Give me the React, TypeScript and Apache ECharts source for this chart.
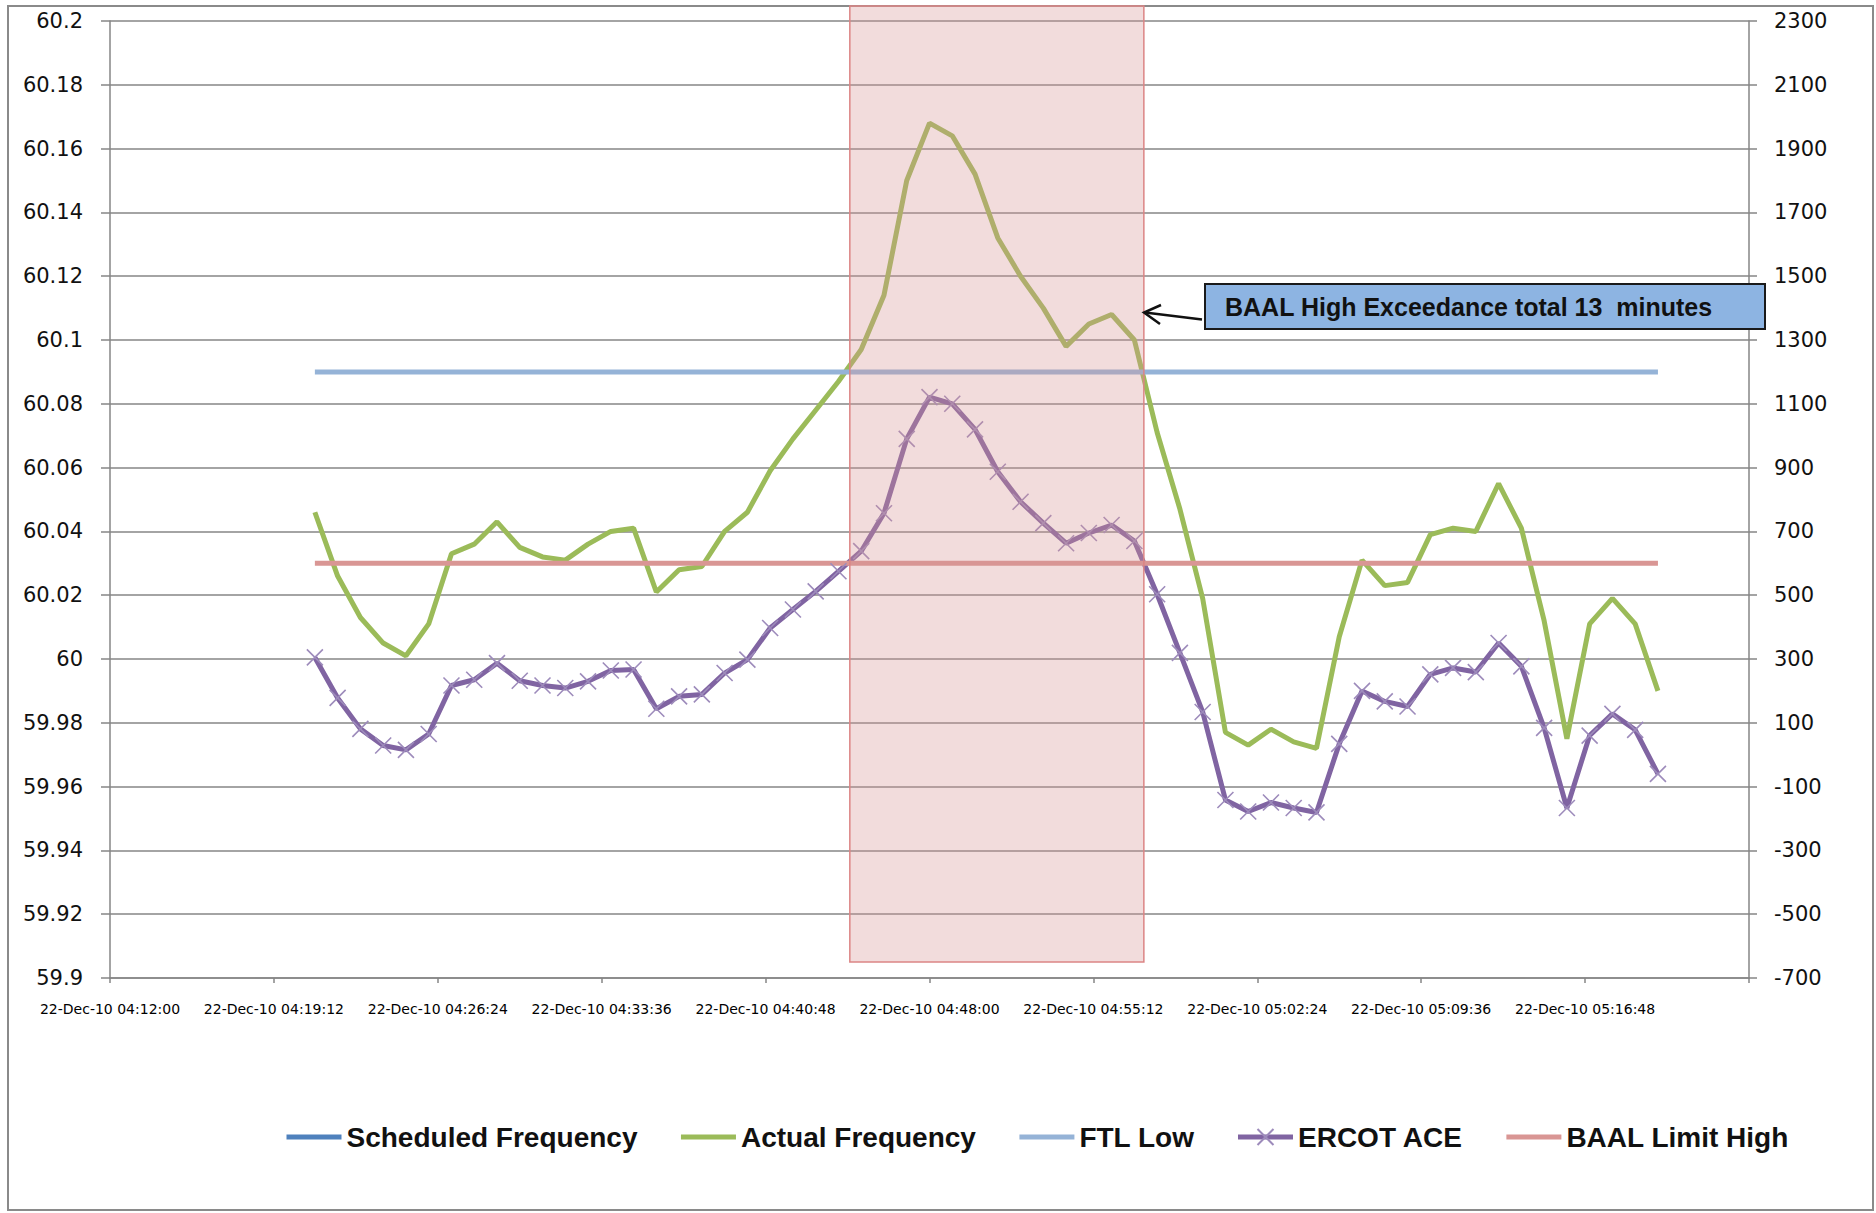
import React, { useEffect, useRef } from "react";
import * as echarts from "echarts";

// ---- Data ----
const times = [
  "04:21", "04:22", "04:23", "04:24", "04:25", "04:26", "04:27", "04:28", "04:29", "04:30",
  "04:31", "04:32", "04:33", "04:34", "04:35", "04:36", "04:37", "04:38", "04:39", "04:40",
  "04:41", "04:42", "04:43", "04:44", "04:45", "04:46", "04:47", "04:48", "04:49", "04:50",
  "04:51", "04:52", "04:53", "04:54", "04:55", "04:56", "04:57", "04:58", "04:59", "05:00",
  "05:01", "05:02", "05:03", "05:04", "05:05", "05:06", "05:07", "05:08", "05:09", "05:10",
  "05:11", "05:12", "05:13", "05:14", "05:15", "05:16", "05:17", "05:18", "05:19", "05:20",
];

const actualFrequency = [
  60.046, 60.026, 60.013, 60.005, 60.001, 60.011, 60.033, 60.036, 60.043, 60.035,
  60.032, 60.031, 60.036, 60.040, 60.041, 60.021, 60.028, 60.029, 60.040, 60.046,
  60.059, 60.069, 60.078, 60.087, 60.097, 60.114, 60.150, 60.168, 60.164, 60.152,
  60.132, 60.120, 60.110, 60.098, 60.105, 60.108, 60.100, 60.071, 60.047, 60.019,
  59.977, 59.973, 59.978, 59.974, 59.972, 60.007, 60.031, 60.023, 60.024, 60.039,
  60.041, 60.040, 60.055, 60.041, 60.012, 59.975, 60.011, 60.019, 60.011, 59.990,
];

const ercotAce = [
  305, 178, 81, 29, 15, 65, 217, 235, 287, 232,
  217, 209, 230, 264, 267, 144, 183, 189, 256, 298,
  397, 455, 512, 575, 638, 757, 990, 1121, 1100, 1020,
  887, 793, 726, 663, 695, 720, 670, 503, 319, 134,
  -142, -178, -150, -167, -181, 34, 200, 167, 151, 252,
  272, 259, 350, 277, 84, -167, 60, 128, 78, -60,
];

const scheduledFrequency: number[] = [];
const FTL_LOW = 60.09;
const BAAL_LIMIT_HIGH = 60.03;

const seriesNames = [
  "Scheduled Frequency",
  "Actual Frequency",
  "FTL Low",
  "ERCOT ACE",
  "BAAL Limit High",
];

const xAxisStart = "04:12:00";
const xAxisEnd = "05:24:00";
const xTickStepSeconds = 432; // 7.2 minutes
const datePrefix = "22-Dec-10";
const shadedWindow = ["04:44:30", "04:57:25"];
const annotationText = "BAAL High Exceedance total 13  minutes";

// ---- helpers ----
const toSec = (t: string) => {
  const p = t.split(":").map(Number);
  return p[0] * 3600 + p[1] * 60 + (p[2] || 0);
};
const pad = (n: number) => (n < 10 ? "0" + n : "" + n);
const fmtTime = (v: number) => {
  const s = Math.round(v);
  return `${pad(Math.floor(s / 3600))}:${pad(Math.floor((s % 3600) / 60))}:${pad(s % 60)}`;
};

const COLORS = {
  scheduled: "#4F81BD",
  actual: "#9BBB59",
  ftl: "#95B3D7",
  ace: "#8064A2",
  baal: "#D99694",
  grid: "#868686",
};

export default function App() {
  const ref = useRef<HTMLDivElement>(null);

  useEffect(() => {
    if (!ref.current) return;
    const chart = echarts.init(ref.current, undefined, { renderer: "svg" });
    const xMin = toSec(xAxisStart);
    const xMax = toSec(xAxisEnd);
    const axisLineStyle = { color: COLORS.grid, width: 1.5 };

    const option: any = {
      animation: false,
      backgroundColor: "#ffffff",
      textStyle: { fontFamily: "DejaVu Sans" },
      grid: { left: 110, right: 127, top: 21, bottom: 235, containLabel: false },
      xAxis: {
        type: "value",
        min: xMin,
        max: xMax,
        interval: xTickStepSeconds,
        axisLine: { show: true, onZero: false, lineStyle: axisLineStyle },
        axisTick: { show: true, length: 5, lineStyle: axisLineStyle },
        splitLine: { show: false },
        axisLabel: {
          margin: 24,
          fontSize: 14,
          color: "#000",
          fontFamily: "DejaVu Sans",
          formatter: (v: number) => (Math.round(v) >= xMax ? "" : `${datePrefix} ${fmtTime(v)}`),
        },
      },
      yAxis: [
        {
          type: "value",
          position: "left",
          min: 59.9,
          max: 60.2,
          interval: 0.02,
          axisLine: { show: true, lineStyle: axisLineStyle },
          axisTick: { show: true, length: 9, lineStyle: axisLineStyle },
          splitLine: { show: true, lineStyle: { color: COLORS.grid, width: 1.5 } },
          axisLabel: {
            margin: 27,
            fontSize: 21,
            color: "#111",
            fontFamily: "DejaVu Sans",
            formatter: (v: number) => String(parseFloat(v.toFixed(2))),
          },
        },
        {
          type: "value",
          position: "right",
          min: -700,
          max: 2300,
          interval: 200,
          axisLine: { show: true, lineStyle: axisLineStyle },
          axisTick: { show: true, length: 8, lineStyle: axisLineStyle },
          splitLine: { show: false },
          axisLabel: {
            margin: 25,
            fontSize: 21,
            color: "#111",
            fontFamily: "DejaVu Sans",
            formatter: (v: number) => String(Math.round(v)),
          },
        },
      ],
      legend: {
        left: 279,
        top: 1116,
        itemWidth: 55,
        itemHeight: 20,
        itemGap: 41,
        lineStyle: { width: 5 },
        textStyle: {
          fontFamily: "Liberation Sans",
          fontWeight: "bold",
          fontSize: 28,
          color: "#111",
          lineHeight: 32,
        },
        data: seriesNames.map((n) =>
          n === "ERCOT ACE" ? { name: n } : { name: n, itemStyle: { opacity: 0 } }
        ),
      },
      series: [
        {
          name: seriesNames[0],
          type: "line",
          yAxisIndex: 0,
          symbol: "none",
          color: COLORS.scheduled,
          lineStyle: { color: COLORS.scheduled, width: 5 },
          data: scheduledFrequency.map((v, i) => [toSec(times[i]), v]),
        },
        {
          name: seriesNames[1],
          type: "line",
          yAxisIndex: 0,
          symbol: "none",
          color: COLORS.actual,
          lineStyle: { color: COLORS.actual, width: 5 },
          data: actualFrequency.map((v, i) => [toSec(times[i]), v]),
        },
        {
          name: seriesNames[2],
          type: "line",
          yAxisIndex: 0,
          symbol: "none",
          color: COLORS.ftl,
          lineStyle: { color: COLORS.ftl, width: 5 },
          data: times.map((t) => [toSec(t), FTL_LOW]),
        },
        {
          name: seriesNames[3],
          type: "line",
          yAxisIndex: 1,
          symbol: "path://M0,0L10,10M10,0L0,10",
          symbolSize: 16,
          showSymbol: true,
          showAllSymbol: true,
          color: COLORS.ace,
          itemStyle: { color: COLORS.ace, borderColor: "#9D8BBB", borderWidth: 1.6 },
          lineStyle: { color: COLORS.ace, width: 5 },
          data: ercotAce.map((v, i) => [toSec(times[i]), v]),
        },
        {
          name: seriesNames[4],
          type: "line",
          yAxisIndex: 0,
          symbol: "none",
          color: COLORS.baal,
          lineStyle: { color: COLORS.baal, width: 5 },
          data: times.map((t) => [toSec(t), BAAL_LIMIT_HIGH]),
          markArea: {
            silent: true,
            z: 10,
            itemStyle: {
              color: "rgba(217,150,148,0.33)",
              borderColor: "#DC8585",
              borderWidth: 1.5,
            },
            data: [
              [
                { xAxis: toSec(shadedWindow[0]), y: 6 },
                { xAxis: toSec(shadedWindow[1]), y: 962 },
              ],
            ],
          },
        },
      ],
      graphic: [
        {
          type: "rect",
          silent: true,
          z: -10,
          shape: { x: 8, y: 6, width: 1865, height: 1204 },
          style: { fill: "none", stroke: "#8a8a8a", lineWidth: 2 },
        },
        {
          type: "rect",
          z: 100,
          shape: { x: 1205, y: 284, width: 560, height: 45 },
          style: { fill: "#8DB4E2", stroke: "#1a1a1a", lineWidth: 2 },
        },
        {
          type: "text",
          z: 101,
          x: 1225,
          y: 306.5,
          style: {
            text: annotationText,
            fontFamily: "Liberation Sans",
            fontWeight: "bold",
            fontSize: 25,
            fill: "#111",
            verticalAlign: "middle",
          },
        },
        {
          type: "line",
          z: 100,
          shape: { x1: 1202, y1: 319.5, x2: 1145, y2: 312.5 },
          style: { stroke: "#111", lineWidth: 2.5 },
        },
        {
          type: "polyline",
          z: 100,
          shape: { points: [[1161, 305], [1144, 312.5], [1160, 324]] },
          style: { stroke: "#111", lineWidth: 2.5, fill: "none" },
        },
      ],
    };

    chart.setOption(option);
    return () => chart.dispose();
  }, []);

  return (
    <div
      ref={ref}
      style={{ position: "fixed", left: 0, top: 0, width: 1876, height: 1213, background: "#fff" }}
    />
  );
}
